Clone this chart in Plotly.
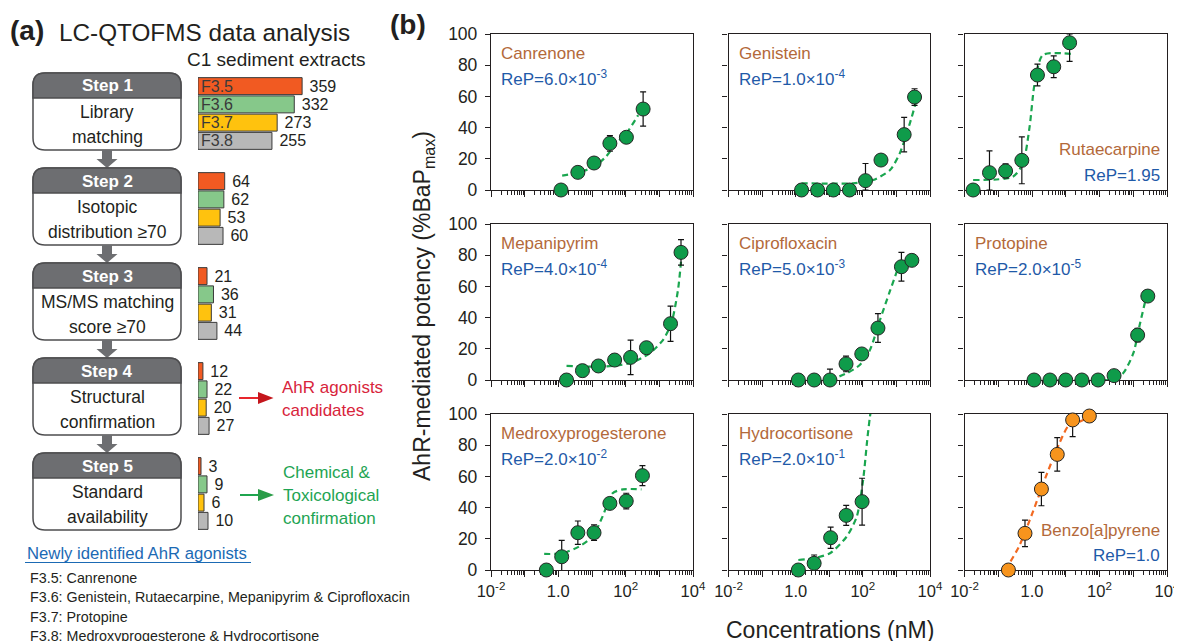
import plotly.graph_objects as go

W, H = 1182, 641
OFF = 8  # the page body adds an 8px margin around the figure
FONT = "Liberation Sans, Arial, sans-serif"

# ---------------- panel (a) data ----------------
fractions = ["F3.5", "F3.6", "F3.7", "F3.8"]
fraction_colors = ["#f15a22", "#86c88a", "#ffc20e", "#b8b8b8"]
step_titles = ["Step 1", "Step 2", "Step 3", "Step 4", "Step 5"]
step_lines = [["Library", "matching"],
              ["Isotopic", "distribution ≥70"],
              ["MS/MS matching", "score ≥70"],
              ["Structural", "confirmation"],
              ["Standard", "availability"]]
step1_counts = [359, 332, 273, 255]
step2_counts = [64, 62, 53, 60]
step3_counts = [21, 36, 31, 44]
step4_counts = [12, 22, 20, 27]
step5_counts = [3, 9, 6, 10]
step_counts = [step1_counts, step2_counts, step3_counts, step4_counts, step5_counts]
candidate_lines = ["AhR agonists", "candidates"]
confirm_lines = ["Chemical &", "Toxicological", "confirmation"]
agonist_title = "Newly identified AhR agonists"
agonist_lines = ["F3.5: Canrenone",
                 "F3.6: Genistein, Rutaecarpine, Mepanipyrim & Ciprofloxacin",
                 "F3.7: Protopine",
                 "F3.8: Medroxyprogesterone & Hydrocortisone"]

# ---------------- panel (b) data ----------------
compounds = ["Canrenone", "Genistein", "Rutaecarpine",
             "Mepanipyrim", "Ciprofloxacin", "Protopine",
             "Medroxyprogesterone", "Hydrocortisone", "Benzo[a]pyrene"]
rep_labels = ["6.0×10<sup>-3</sup>", "1.0×10<sup>-4</sup>", "1.95",
              "4.0×10<sup>-4</sup>", "5.0×10<sup>-3</sup>", "2.0×10<sup>-5</sup>",
              "2.0×10<sup>-2</sup>", "2.0×10<sup>-1</sup>", "1.0"]

canrenone_conc = [1.2, 3.8, 11.5, 34, 105, 330]
canrenone_resp = [0, 11.3, 17.3, 29.9, 33.8, 51.9]
canrenone_err_up = [0, 0, 0, 5, 2, 11]
canrenone_err_dn = [0, 0, 0, 5, 2, 11]
canrenone_fit_x = [1.3, 4.1, 11.5, 26, 52, 105, 235]
canrenone_fit_y = [9.2, 11.3, 14.9, 21.4, 29.9, 36.3, 48]

genistein_conc = [1.5, 4.5, 13.2, 40, 120, 347, 1700, 3470]
genistein_resp = [0, 0, 0, 0, 6.0, 19.2, 35.5, 59.6]
genistein_err_up = [0, 0, 0, 0, 11, 0, 11, 5.3]
genistein_err_dn = [0, 0, 0, 0, 6, 0, 11, 5.3]
genistein_fit_x = [1.5, 51, 204, 646, 1260, 2510, 3980]
genistein_fit_y = [4.3, 4.3, 6.4, 12.8, 23.5, 42.7, 57.7]

rutaecarpine_conc = [0.018, 0.055, 0.165, 0.5, 1.45, 4.4, 13]
rutaecarpine_resp = [0, 11.1, 12.2, 19, 73.7, 79, 94.4]
rutaecarpine_err_up = [0, 14, 4.5, 15, 7, 7, 5.6]
rutaecarpine_err_dn = [0, 11.1, 4.5, 15, 7, 7, 12]
rutaecarpine_fit_x = [0.018, 0.27, 0.54, 0.85, 1.2, 2.1, 15]
rutaecarpine_fit_y = [6.4, 8.5, 17.1, 40.6, 68.4, 86.5, 87.2]

mepanipyrim_conc = [1.75, 5.2, 15.5, 47, 140, 415, 2150, 4400]
mepanipyrim_resp = [0, 6, 9, 12.8, 14.5, 20.7, 36.1, 81.8]
mepanipyrim_err_up = [0, 3.8, 0, 0, 11, 0, 11.3, 8.2]
mepanipyrim_err_dn = [0, 3.8, 0, 0, 11, 0, 11.3, 8.2]
mepanipyrim_fit_x = [1.75, 16, 50, 162, 510, 1280, 2270, 3580, 4500]
mepanipyrim_fit_y = [9, 8.5, 9.2, 11.3, 17.1, 25.6, 36.3, 57.7, 78]

ciprofloxacin_conc = [1.2, 3.55, 10.5, 31.6, 93, 282, 1410, 2880]
ciprofloxacin_resp = [0, 0, 0, 10.3, 16.7, 33.3, 72.6, 76.7]
ciprofloxacin_err_up = [0, 0, 7, 5, 0, 9.2, 9.2, 0]
ciprofloxacin_err_dn = [0, 0, 0, 5, 0, 9.2, 9.2, 0]
ciprofloxacin_fit_x = [10.5, 33, 81, 162, 324, 631, 1260]
ciprofloxacin_fit_y = [0, 4.3, 9.6, 19.2, 38.5, 56.6, 74.8]

protopine_conc = [1.15, 3.4, 10, 30, 91, 270, 1350, 2700]
protopine_resp = [0, 0, 0, 0, 0, 2.8, 28.8, 53.8]
protopine_err_up = [0, 0, 0, 0, 0, 0, 4.3, 0]
protopine_err_dn = [0, 0, 0, 0, 0, 0, 4.3, 0]
protopine_fit_x = [1.15, 250, 500, 1000, 1580, 2290]
protopine_fit_y = [0, 0.4, 4.3, 17, 36, 51]

medroxy_conc = [0.44, 1.26, 3.8, 11.5, 34, 104, 315]
medroxy_resp = [0, 8.5, 23.9, 23.9, 42.7, 44.2, 60.5]
medroxy_err_up = [0, 10.5, 7.5, 5, 0, 5, 6.4]
medroxy_err_dn = [0, 10.5, 7.5, 5, 0, 5, 6.4]
medroxy_fit_x = [0.38, 1.3, 4.1, 10.3, 20.5, 41, 82, 295]
medroxy_fit_y = [10.3, 10.7, 15, 21.4, 34.2, 49.2, 51.7, 51.7]

hydrocortisone_conc = [1.2, 3.55, 11, 32, 95]
hydrocortisone_resp = [0, 4.3, 20.7, 35, 43.8]
hydrocortisone_err_up = [3, 5.3, 6.8, 6.4, 15]
hydrocortisone_err_dn = [0, 5.3, 6.8, 6.4, 15]
hydrocortisone_fit_x = [1.2, 3.3, 10.5, 33, 66, 102, 135, 162, 182]
hydrocortisone_fit_y = [6.4, 7.5, 10.7, 21.4, 34.2, 57.7, 83.3, 98, 104.7]

bap_conc = [0.2, 0.62, 1.9, 5.6, 16, 50]
bap_resp = [0, 23.5, 51.9, 74.1, 96.2, 98.7]
bap_err_up = [0, 8.5, 10.7, 10.7, 0, 0]
bap_err_dn = [0, 8.5, 10.7, 10.7, 10.7, 0]
bap_fit_x = [0.162, 0.41, 1.02, 2.57, 6.46, 12.6, 25, 50]
bap_fit_y = [0, 15, 36.3, 59.8, 81.2, 93, 95, 98]

series = [
    (canrenone_conc, canrenone_resp, canrenone_err_up, canrenone_err_dn, canrenone_fit_x, canrenone_fit_y),
    (genistein_conc, genistein_resp, genistein_err_up, genistein_err_dn, genistein_fit_x, genistein_fit_y),
    (rutaecarpine_conc, rutaecarpine_resp, rutaecarpine_err_up, rutaecarpine_err_dn, rutaecarpine_fit_x, rutaecarpine_fit_y),
    (mepanipyrim_conc, mepanipyrim_resp, mepanipyrim_err_up, mepanipyrim_err_dn, mepanipyrim_fit_x, mepanipyrim_fit_y),
    (ciprofloxacin_conc, ciprofloxacin_resp, ciprofloxacin_err_up, ciprofloxacin_err_dn, ciprofloxacin_fit_x, ciprofloxacin_fit_y),
    (protopine_conc, protopine_resp, protopine_err_up, protopine_err_dn, protopine_fit_x, protopine_fit_y),
    (medroxy_conc, medroxy_resp, medroxy_err_up, medroxy_err_dn, medroxy_fit_x, medroxy_fit_y),
    (hydrocortisone_conc, hydrocortisone_resp, hydrocortisone_err_up, hydrocortisone_err_dn, hydrocortisone_fit_x, hydrocortisone_fit_y),
    (bap_conc, bap_resp, bap_err_up, bap_err_dn, bap_fit_x, bap_fit_y),
]

x_tickvals = [0.01, 0.1, 1, 10, 100, 1000, 10000]
x_ticktext = ["10<sup>-2</sup>", "", "1.0", "", "10<sup>2</sup>", "", "10<sup>4</sup>"]
y_tickvals = [0, 20, 40, 60, 80, 100]
x_title = "Concentrations (nM)"
y_title = "AhR-mediated potency (%BaP<sub>max</sub>)"

# ---------------- helpers (screen pixels -> paper fractions) ----------------
def X(px):
    return (px - OFF) / W


def Y(py):
    return 1 - (py - OFF) / H


def P(x, y):
    return f"{X(x):.5f},{Y(y):.5f}"


def rounded(x0, y0, x1, y1, rt, rb):
    return (f"M{P(x0 + rt, y0)} L{P(x1 - rt, y0)} Q{P(x1, y0)} {P(x1, y0 + rt)} "
            f"L{P(x1, y1 - rb)} Q{P(x1, y1)} {P(x1 - rb, y1)} L{P(x0 + rb, y1)} "
            f"Q{P(x0, y1)} {P(x0, y1 - rb)} L{P(x0, y0 + rt)} Q{P(x0, y0)} {P(x0 + rt, y0)} Z")


annotations = []
shapes = []


def ann(text, x, y, size, color="#231f20", xanchor="center", bold=False, angle=0):
    annotations.append(dict(
        text=f"<b>{text}</b>" if bold else text, x=X(x), y=Y(y), xref="paper", yref="paper",
        xanchor=xanchor, yanchor="middle", showarrow=False, textangle=angle,
        font=dict(family=FONT, size=size, color=color)))


fig = go.Figure()
layout_axes = {}

# ---------------- panel (a) ----------------
ann("(a)", 8, 31, 28, "#231f20", "left", bold=True)
ann("LC-QTOFMS data analysis", 57, 32, 24.3, "#231f20", "left")
ann("C1 sediment extracts", 276, 60, 19, "#231f20")

box_tops = [73, 168, 263, 358, 453]
bx0, bx1 = 33, 181
gray = "#6d6e71"
bar_scales = [0.29, 0.417, 0.43, 0.41, 1.0]
bar_x0 = 198
bar_span = 120

for i, T in enumerate(box_tops):
    shapes.append(dict(type="path", path=rounded(bx0, T, bx1, T + 77, 12, 12), xref="paper", yref="paper",
                       fillcolor="white", line=dict(color="#4d4d4f", width=1.5)))
    shapes.append(dict(type="path", path=rounded(bx0, T, bx1, T + 25, 12, 0), xref="paper", yref="paper",
                       fillcolor=gray, line=dict(color="#4d4d4f", width=1.5)))
    ann(step_titles[i], 107, T + 13, 17, "white", bold=True)
    ann(step_lines[i][0], 107, T + 39, 17.5)
    ann(step_lines[i][1], 107, T + 64, 17.5)
    if i < len(box_tops) - 1:
        y0, y1 = T + 77, box_tops[i + 1]
        shapes.append(dict(
            type="path", xref="paper", yref="paper", fillcolor=gray, line=dict(width=0),
            path=(f"M{P(102, y0)} L{P(112, y0)} L{P(112, y1 - 9)} L{P(117.5, y1 - 9)} "
                  f"L{P(107, y1)} L{P(96.5, y1 - 9)} L{P(102, y1 - 9)} Z")))

    # bars
    k = 10 + i
    counts = step_counts[i]
    fig.add_trace(go.Bar(
        x=counts, y=fractions, orientation="h", width=0.93,
        marker=dict(color=fraction_colors, line=dict(color="#3a3a3a", width=1)),
        texttemplate="\u00a0%{x}", textposition="outside", constraintext="none",
        textfont=dict(family=FONT, size=16, color="#231f20"), cliponaxis=False,
        xaxis=f"x{k}", yaxis=f"y{k}", showlegend=False, hoverinfo="skip"))
    layout_axes[f"xaxis{k}"] = dict(domain=[X(bar_x0), X(bar_x0 + bar_span)],
                                    range=[0, bar_span / bar_scales[i]], visible=False,
                                    anchor=f"y{k}", fixedrange=True, automargin=False)
    layout_axes[f"yaxis{k}"] = dict(domain=[Y(T + 77), Y(T + 4)], type="category",
                                    range=[3.5, -0.5], visible=False, anchor=f"x{k}",
                                    automargin=False)
    if i == 0:
        for f in fractions:
            annotations.append(dict(text=f, x=0, y=f, xref="x10", yref="y10", xanchor="left",
                                    xshift=1, showarrow=False,
                                    font=dict(family=FONT, size=16, color="#3a3a3a")))

# red and green arrows
red_line, red_head = "#e8262d", "#c4161c"
shapes.append(dict(type="line", xref="paper", yref="paper", x0=X(239), x1=X(260), y0=Y(398), y1=Y(398),
                   line=dict(color=red_line, width=2)))
shapes.append(dict(type="path", xref="paper", yref="paper", fillcolor=red_head, line=dict(width=0),
                   path=f"M{P(258, 392)} L{P(273.5, 398)} L{P(258, 404)} Z"))
green_line, green_head = "#1fa54f", "#2a9d48"
shapes.append(dict(type="line", xref="paper", yref="paper", x0=X(240), x1=X(260), y0=Y(495), y1=Y(495),
                   line=dict(color=green_line, width=2)))
shapes.append(dict(type="path", xref="paper", yref="paper", fillcolor=green_head, line=dict(width=0),
                   path=f"M{P(258, 489)} L{P(274, 495)} L{P(258, 501)} Z"))
for j, t in enumerate(candidate_lines):
    ann(t, 280, 387 + 23.5 * j, 17, "#d8243b", "left")
for j, t in enumerate(confirm_lines):
    ann(t, 280.5, 472 + 23 * j, 17, "#1ea453", "left")

ann(agonist_title, 25, 553, 16.7, "#1b6ab4", "left")
shapes.append(dict(type="line", xref="paper", yref="paper", x0=X(25), x1=X(251), y0=Y(562.5), y1=Y(562.5),
                   line=dict(color="#1b6ab4", width=1.2)))
for j, t in enumerate(agonist_lines):
    ann(t, 28, 578 + 19.3 * j, 14.3, "#231f20", "left")

# ---------------- panel (b) ----------------
ann("(b)", 388, 24, 28, "#231f20", "left", bold=True)
col_px = [(491, 693), (728.5, 930), (964.5, 1167)]
row_px = [(34, 190), (224, 380), (414, 570)]
minor_vals = [d * 10.0 ** e for e in range(-2, 4) for d in range(2, 10)]
axis_col = "#231f20"
green_pt, green_fit = "#0f9b4a", "#1aa64f"
orange_pt, orange_fit = "#f7941d", "#f26a22"
brown, blue = "#b3693a", "#1f5aa8"

for i, name in enumerate(compounds):
    r, c = divmod(i, 3)
    k = i + 1
    conc, resp, eup, edn, fx, fy = series[i]
    is_ref = name == "Benzo[a]pyrene"
    fig.add_trace(go.Scatter(
        x=fx, y=fy, mode="lines", xaxis=f"x{k}", yaxis=f"y{k}", showlegend=False, hoverinfo="skip",
        line=dict(color=orange_fit if is_ref else green_fit, width=2.2, dash="6px,4px",
                  shape="spline", smoothing=0.7)))
    fig.add_trace(go.Scatter(
        x=conc, y=resp, mode="markers", xaxis=f"x{k}", yaxis=f"y{k}", showlegend=False,
        cliponaxis=False,
        marker=dict(size=14, color=orange_pt if is_ref else green_pt, line=dict(color="#262626", width=1)),
        error_y=dict(type="data", symmetric=False, array=eup, arrayminus=edn,
                     color="#111111", thickness=1.2, width=3)))
    xa0, xa1 = col_px[c]
    ya0, ya1 = row_px[r]
    layout_axes[f"xaxis{k}"] = dict(
        type="log", range=[-2, 4], domain=[X(xa0), X(xa1)], anchor=f"y{k}",
        showline=True, mirror=True, linecolor=axis_col, linewidth=1.3,
        ticks="outside", ticklen=6, tickwidth=1, tickcolor=axis_col,
        tickmode="array", tickvals=x_tickvals, ticktext=x_ticktext,
        showticklabels=(r == 2), tickfont=dict(family=FONT, size=16.5, color=axis_col),
        minor=dict(tickmode="array", tickvals=minor_vals, ticks="outside", ticklen=3.5,
                   tickwidth=1, tickcolor=axis_col, showgrid=False),
        showgrid=False, zeroline=False, layer="below traces", fixedrange=True, automargin=False)
    layout_axes[f"yaxis{k}"] = dict(
        range=[0, 100], domain=[Y(ya1), Y(ya0)], anchor=f"x{k}",
        showline=True, mirror=True, linecolor=axis_col, linewidth=1.3,
        ticks="outside", ticklen=5, tickwidth=1, tickcolor=axis_col,
        tickmode="array", tickvals=y_tickvals, showticklabels=(c == 0),
        tickfont=dict(family=FONT, size=17.5, color=axis_col), ticklabelstandoff=4,
        showgrid=False, zeroline=False, layer="below traces", fixedrange=True, automargin=False)

    rep_text = f"ReP={rep_labels[i]}"
    if name in ("Rutaecarpine", "Benzo[a]pyrene"):
        ann(name, xa1 - 5, ya1 - 40, 17, brown, "right")
        ann(rep_text, xa1 - 5, ya1 - 15, 17, blue, "right")
    else:
        ann(name, xa0 + 8, ya0 + 19, 17, brown, "left")
        ann(rep_text, xa0 + 8, ya0 + 44, 17, blue, "left")

ann(y_title, 423, 306, 23, "#231f20", angle=-90)
ann(x_title, 830, 630, 23, "#231f20")

fig.update_layout(
    width=W, height=H, margin=dict(l=0, r=0, t=0, b=0, autoexpand=False),
    paper_bgcolor="white", plot_bgcolor="white",
    font=dict(family=FONT, color="#231f20"),
    showlegend=False, annotations=annotations, shapes=shapes,
    barmode="overlay", **layout_axes)

fig.write_html("out.html")
